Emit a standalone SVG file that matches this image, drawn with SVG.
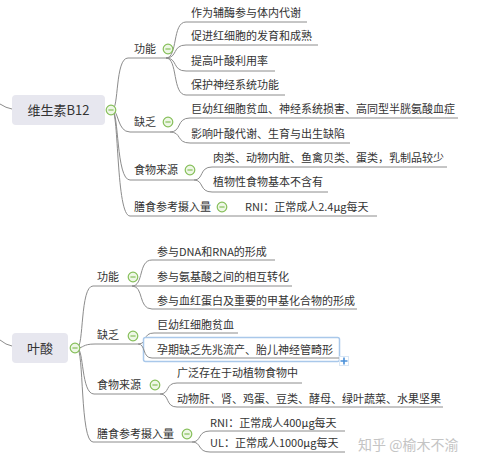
<svg xmlns="http://www.w3.org/2000/svg" width="477" height="465" viewBox="0 0 477 465">
<style>
text{font-family:"Noto Sans CJK SC","Noto Sans",sans-serif;fill:#333}
.t{font-size:11px}
.r{font-size:13px}
.ln{fill:none;stroke:#8c8c8c;stroke-width:1}
.root{fill:#e7e7ef}
.cc{fill:#eef7e6;stroke:#86bf5a;stroke-width:1.2}
.cm{stroke:#86bf5a;stroke-width:1.2}
</style>
<defs>
<g id="col"><circle class="cc" r="4.8"/><line class="cm" x1="-2.6" y1="0" x2="2.6" y2="0"/></g>
</defs>
<rect width="477" height="465" fill="#fff"/>
<g id="connectors">
<!-- B12 -->
<path class="ln" d="M0,104 Q6,108 12,109"/>
<path class="ln" d="M112,110 C119,110 115,58 128,58 H166"/>
<path class="ln" d="M112,110 C119,110 117,132 130,132 H170"/>
<path class="ln" d="M112,110 C119,110 116,180 130,180 H194"/>
<path class="ln" d="M112,110 C119,110 116,216 130,216 H377"/>
<path class="ln" d="M166,58 C178,58 172,22 186,22 H307"/>
<path class="ln" d="M166,58 C178,58 172,45 186,45 H318"/>
<path class="ln" d="M166,58 C178,58 172,71 186,71 H275"/>
<path class="ln" d="M166,58 C178,58 172,95 186,95 H285"/>
<path class="ln" d="M170,132 C182,132 176,118 190,118 H458"/>
<path class="ln" d="M170,132 C182,132 176,143 190,143 H350"/>
<path class="ln" d="M194,180 C204,180 199,167 212,167 H447"/>
<path class="ln" d="M194,180 C204,180 199,192 212,192 H328"/>
<!-- 叶酸 -->
<path class="ln" d="M0,340 Q6,345 12,346"/>
<path class="ln" d="M77,348 C84,348 80,286 93,286 H292"/>
<path class="ln" d="M77,348 C84,348 82,344 95,344 H138"/>
<path class="ln" d="M77,348 C84,348 81,394 94,394 H160"/>
<path class="ln" d="M77,348 C84,348 80,442 93,442 H192"/>
<path class="ln" d="M132,286 C144,286 138,260 152,260 H275"/>
<path class="ln" d="M132,286 C144,286 138,309 152,309 H357"/>
<path class="ln" d="M138,344 C148,344 142,333 154,333 H238"/>
<path class="ln" d="M160,394 C170,394 165,383 177,383 H302"/>
<path class="ln" d="M160,394 C170,394 165,407 177,407 H443"/>
<path class="ln" d="M192,442 C202,442 197,431 210,431 H345"/>
<path class="ln" d="M192,442 C202,442 197,452 210,452 H345"/>
</g>
<g id="b12">
<rect class="root" x="12" y="95" width="93" height="30" rx="4"/>
<text class="r" x="58.5" y="114.5" text-anchor="middle">维生素B12</text>
<use href="#col" x="111" y="110"/>
</g>
<g id="b12-func"><text class="t" x="134" y="53">功能</text><use href="#col" x="168" y="49"/></g>
<g id="b12-f1"><text class="t" x="191" y="17">作为辅酶参与体内代谢</text></g>
<g id="b12-f2"><text class="t" x="191" y="40">促进红细胞的发育和成熟</text></g>
<g id="b12-f3"><text class="t" x="191" y="65">提高叶酸利用率</text></g>
<g id="b12-f4"><text class="t" x="191" y="89">保护神经系统功能</text></g>
<g id="b12-def"><text class="t" x="134" y="126">缺乏</text><use href="#col" x="168" y="122"/></g>
<g id="b12-d1"><text class="t" x="191" y="113">巨幼红细胞贫血、神经系统损害、高同型半胱氨酸血症</text></g>
<g id="b12-d2"><text class="t" x="191" y="138">影响叶酸代谢、生育与出生缺陷</text></g>
<g id="b12-food"><text class="t" x="134" y="174">食物来源</text><use href="#col" x="190" y="170"/></g>
<g id="b12-fd1"><text class="t" x="213" y="162">肉类、动物内脏、鱼禽贝类、蛋类，乳制品较少</text></g>
<g id="b12-fd2"><text class="t" x="213" y="186">植物性食物基本不含有</text></g>
<g id="b12-rni"><text class="t" x="134" y="211">膳食参考摄入量</text><use href="#col" x="222" y="207"/></g>
<g id="b12-rni1"><text class="t" x="245" y="211">RNI：正常成人2.4μg每天</text></g>

<g id="fa">
<rect class="root" x="12" y="333" width="56" height="30" rx="4"/>
<text class="r" x="40" y="353" text-anchor="middle">叶酸</text>
<use href="#col" x="75" y="348"/>
</g>
<g id="fa-func"><text class="t" x="97" y="281">功能</text><use href="#col" x="133" y="277"/></g>
<g id="fa-f1"><text class="t" x="157" y="256">参与DNA和RNA的形成</text></g>
<g id="fa-f2"><text class="t" x="157" y="281">参与氨基酸之间的相互转化</text></g>
<g id="fa-f3"><text class="t" x="157" y="305">参与血红蛋白及重要的甲基化合物的形成</text></g>
<g id="fa-def"><text class="t" x="97" y="339">缺乏</text><use href="#col" x="133" y="336"/></g>
<g id="fa-d1"><text class="t" x="157" y="329">巨幼红细胞贫血</text></g>
<g id="fa-d2">
<rect x="143.5" y="337.5" width="196" height="24" rx="2" fill="#fff" stroke="#a9c8ea" stroke-width="1.5"/>
<path class="ln" d="M138,344 C146,344 142,358 152,358 H339"/>
<text class="t" x="157" y="354">孕期缺乏先兆流产、胎儿神经管畸形</text>
<rect x="339.5" y="356.5" width="9" height="9" fill="#fff" stroke="#d8e6f5"/>
<path d="M344,357.5 V364.5 M340.5,361 H347.5" stroke="#4a90d9" stroke-width="1.6"/>
</g>
<g id="fa-food"><text class="t" x="97" y="389">食物来源</text><use href="#col" x="155" y="385"/></g>
<g id="fa-fd1"><text class="t" x="177" y="377">广泛存在于动植物食物中</text></g>
<g id="fa-fd2"><text class="t" x="177" y="403">动物肝、肾、鸡蛋、豆类、酵母、绿叶蔬菜、水果坚果</text></g>
<g id="fa-rni"><text class="t" x="97" y="438">膳食参考摄入量</text><use href="#col" x="187" y="434"/></g>
<g id="fa-r1"><text class="t" x="210" y="427">RNI：正常成人400μg每天</text></g>
<g id="fa-r2"><text class="t" x="210" y="447">UL：正常成人1000μg每天</text></g>
<text x="358" y="450" font-size="14" style="fill:#c4c4c4">知乎 @榆木不渝</text>
</svg>
